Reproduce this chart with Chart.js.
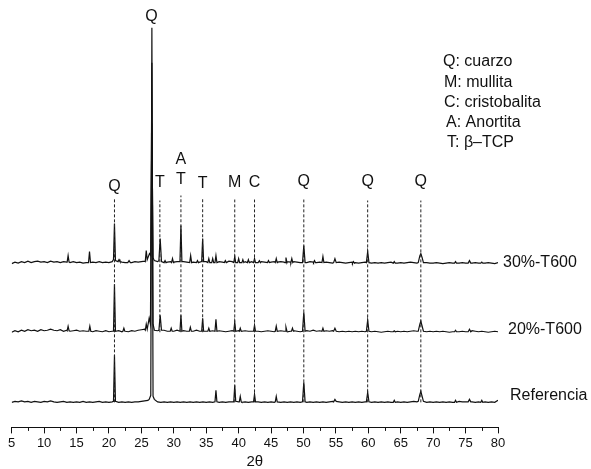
<!DOCTYPE html>
<html>
<head>
<meta charset="utf-8">
<script src="https://cdn.jsdelivr.net/npm/chart.js@4"></script>
<style>
  html, body { margin: 0; padding: 0; background: #fff; }
  #wrap { width: 591px; height: 469px; }
</style>
</head>
<body>
<div id="wrap"><canvas id="xrd" width="591" height="469"></canvas></div>
<script>
// 2θ grid of the baseline lists: 5 .. 80 every 0.5
const baseStart = 5;
const baseStep = 0.5;

// vertical offset of each pattern (stacked)
const seriesNames = ["Referencia", "20%-T600", "30%-T600"];
const seriesOffsets = [25, 95, 163.5];

// baseline noise, one value every 0.5°
const refBase = [
  0, 1, 0.5, 1.5, 0.5, 1, 0, 1, 0.5, 0,
  1, 0.5, 1.5, 0.5, 0, 0.5, 1, 0, 0.5, 0,
  0.5, 0, 1, 0, 0.5, 0, 0.5, 1, 0, 0.5,
  0, 0.5, 0, 0, 0.5, 0, 0.5, 0, 0.5, 0.5,
  1, 1.5, 2, 6, 2, 0.5, 0, 0.5, 0, 0.5,
  0, 0.5, 0, 0.5, 0, 0.5, 0, 0.5, 0, 0.5,
  0, 0.5, 0, 0.5, 0, 0.5, 0, 0.5, 0.5, 0,
  0.5, 0, 0.5, 0, 0.5, 0, 0.5, 0, 0.5, 0,
  0.5, 0, 0.5, 0, 0.5, 0, 0.5, 0, 0.5, 0,
  0.5, 0, 0.5, 0, 0.5, 0, 0.5, 0, 0.5, 1,
  1, 0.5, 0, 0.5, 0, 0.5, 0, 0.5, 0, 0.5,
  0.5, 0, 0.5, 0, 0.5, 0, 0.5, 0, 1, 0.5,
  0, 0.5, 0, 0.5, 1, 0.5, 0, 0.5, 0, 0.5,
  0, 0.5, 0, 0.5, 0, 0.5, 0, 0.5, 1, 0.5,
  0.5, 1, 0.5, 0, 0.5, 1, 0.5, 0, 0.5, 0,
  2
];
const t20Base = [
  0, 1.5, 0.5, 2, 1, 2.5, 1.5, 2, 1, 2.5,
  1.5, 2, 3, 2, 1.5, 2.5, 1, 2, 1, 1.5,
  2, 1, 1.5, 1, 2, 0.5, 1.5, 1, 0.5, 1.5,
  0.5, 1, 0.5, 1.5, 0.5, 1, 0.5, 1.5, 1, 2,
  2.5, 3, 2, 3, 2, 1.5, 1, 2, 1, 1.5,
  1, 2, 1, 1.5, 1, 2, 1, 2, 1, 1.5,
  1, 2, 1.5, 1, 1.5, 1, 0.5, 1, 1.5, 1,
  1.5, 1, 1.5, 1, 1, 0.5, 1, 0.5, 1, 1.5,
  1, 0.5, 1, 1.5, 1, 0.5, 1, 1.5, 1, 0.5,
  1, 1.5, 1, 2, 1, 1.5, 1, 1.5, 1, 1.5,
  1, 0.5, 1, 0.5, 1, 0.5, 1, 0.5, 1, 0.5,
  1, 0.5, 1, 0.5, 0, 0.5, 1, 0.5, 1.5, 1,
  0.5, 1, 0.5, 1, 1.5, 1, 0.5, 1, 0.5, 1,
  0.5, 1, 0.5, 1, 0.5, 0, 0.5, 1, 0.5, 1,
  0.5, 1, 1.5, 1, 0.5, 1, 0.5, 0, 0.5, 1,
  0.5
];
const t30Base = [
  0, 1.5, 0.5, 2, 1, 2.5, 1, 2, 2.5, 1.5,
  2, 1, 2.5, 1.5, 2, 1, 2, 1.5, 1, 2,
  1, 1.5, 0.5, 1, 0.5, 1.5, 1, 2, 1, 1.5,
  1, 2, 1.5, 2.5, 1.5, 1, 1.5, 1, 2, 1.5,
  2, 2.5, 3, 3.5, 2.5, 2, 1.5, 2, 1.5, 2,
  1.5, 2, 1.5, 2, 1.5, 2, 1.5, 2, 1.5, 2.5,
  2, 2.5, 2, 2.5, 2, 1.5, 2, 2.5, 2, 1.5,
  2, 2.5, 2, 1.5, 2, 1.5, 1, 2, 1.5, 2,
  1.5, 2, 1.5, 2, 1.5, 2, 1.5, 2, 1.5, 1,
  1.5, 1, 2, 1.5, 1, 1.5, 1, 1.5, 1, 0.5,
  1, 1.5, 1, 0.5, 1, 1.5, 1, 0.5, 1, 1.5,
  1, 0.5, 1, 0.5, 1, 0.5, 1, 1.5, 1, 0.5,
  1, 0.5, 1, 1.5, 1, 0.5, 1, 0.5, 1, 0.5,
  0.5, 1, 0.5, 0, 0.5, 1, 0.5, 1, 0.5, 1,
  0.5, 1, 0.5, 1, 0.5, 0, 0.5, 1, 0.5, 0,
  1
];

// reflections: groups of [2θ, intensity] points
const refPeaks = [
  [[20.7, 1], [20.85, 47], [21.0, 1]],
  [[26.2, 3], [26.45, 7], [26.62, 374], [26.8, 6], [27.0, 3]],
  [[36.35, 0.5], [36.5, 12], [36.65, 0.5]],
  [[39.25, 0.5], [39.4, 17], [39.55, 1]],
  [[40.1, 0.5], [40.25, 6], [40.4, 0.5]],
  [[42.3, 0.5], [42.45, 8], [42.6, 0.5]],
  [[45.65, 0.5], [45.8, 6], [45.95, 0.5]],
  [[49.85, 0.5], [50.05, 20], [50.25, 0.5]],
  [[54.65, 0.5], [54.85, 3], [55.05, 1]],
  [[59.7, 0.5], [59.9, 10], [60.1, 0.5]],
  [[63.85, 0], [64.0, 2], [64.15, 0]],
  [[67.7, 1], [67.95, 8], [68.1, 11], [68.3, 6], [68.5, 1]],
  [[73.3, 0], [73.45, 2], [73.6, 0]],
  [[75.4, 0.5], [75.6, 3], [75.8, 0.5]],
  [[77.35, 0], [77.5, 2], [77.65, 0]]
];
const t20Peaks = [
  [[13.55, 1.5], [13.7, 6], [13.85, 1.5]],
  [[16.9, 1], [17.05, 6], [17.2, 1]],
  [[20.7, 1], [20.85, 48], [21.0, 1]],
  [[22.15, 1], [22.3, 4], [22.45, 1]],
  [[25.6, 2], [25.75, 8], [25.9, 3], [26.2, 14], [26.4, 8], [26.62, 269], [26.8, 8], [27.0, 2]],
  [[27.7, 2], [27.9, 17], [28.1, 2]],
  [[29.45, 1], [29.6, 4], [29.75, 1]],
  [[30.95, 1], [31.1, 17], [31.25, 1]],
  [[32.4, 1], [32.55, 5], [32.7, 1]],
  [[34.3, 1], [34.45, 14], [34.6, 1]],
  [[35.25, 1], [35.4, 4], [35.55, 1]],
  [[36.35, 1], [36.5, 13], [36.65, 1]],
  [[39.25, 1], [39.4, 10], [39.55, 1]],
  [[40.1, 1], [40.25, 4], [40.4, 1]],
  [[42.3, 1], [42.45, 7], [42.6, 1]],
  [[45.65, 1], [45.8, 6], [45.95, 1]],
  [[47.15, 1], [47.3, 5], [47.45, 1]],
  [[48.15, 1], [48.3, 4], [48.45, 1]],
  [[49.85, 1], [50.05, 20], [50.25, 1]],
  [[52.85, 1], [53.0, 4], [53.15, 1]],
  [[54.65, 1], [54.85, 4], [55.05, 1]],
  [[59.7, 1], [59.9, 12], [60.1, 1]],
  [[63.85, 0.5], [64.0, 1.5], [64.15, 0.5]],
  [[67.7, 1], [67.95, 8], [68.1, 11], [68.3, 6], [68.5, 1]],
  [[73.3, 0.5], [73.45, 2], [73.6, 0.5]],
  [[75.4, 0.5], [75.6, 3], [75.8, 0.5]]
];
const t30Peaks = [
  [[13.55, 1.5], [13.7, 8], [13.85, 1.5]],
  [[16.85, 1], [17.0, 12], [17.15, 1]],
  [[20.55, 2], [20.7, 4], [20.85, 40], [21.0, 3]],
  [[21.4, 2], [21.55, 4], [21.7, 2]],
  [[22.9, 1], [23.1, 3], [23.3, 1]],
  [[25.6, 2], [25.75, 13], [25.9, 4], [26.25, 10], [26.45, 8], [26.62, 140], [26.8, 6], [27.0, 3]],
  [[27.7, 3], [27.9, 25], [28.1, 2]],
  [[28.5, 1], [28.65, 3], [28.8, 1]],
  [[29.65, 1], [29.8, 5], [29.95, 1]],
  [[30.95, 2], [31.1, 38], [31.25, 2]],
  [[32.45, 1], [32.6, 8], [32.75, 1]],
  [[33.5, 1], [33.65, 3], [33.8, 1]],
  [[34.3, 2], [34.45, 25], [34.6, 2]],
  [[35.25, 1], [35.4, 5], [35.55, 1]],
  [[35.85, 1], [36.0, 5], [36.15, 1]],
  [[36.35, 1], [36.5, 8], [36.65, 1]],
  [[37.8, 1], [37.95, 3], [38.1, 1]],
  [[39.25, 1], [39.4, 7], [39.55, 1]],
  [[39.85, 1], [40.0, 5], [40.15, 1]],
  [[40.5, 1], [40.65, 4], [40.8, 1]],
  [[41.35, 1], [41.5, 4], [41.65, 1]],
  [[42.3, 1], [42.45, 5], [42.6, 1]],
  [[43.05, 1], [43.2, 3], [43.35, 1]],
  [[44.45, 1], [44.6, 3], [44.75, 1]],
  [[45.65, 1], [45.8, 5], [45.95, 1]],
  [[47.15, 1], [47.3, 6], [47.45, 1]],
  [[48.05, 1], [48.2, 5], [48.35, 1]],
  [[49.85, 1], [50.05, 18], [50.25, 1]],
  [[51.55, 1], [51.7, 3], [51.85, 1]],
  [[52.85, 1], [53.0, 7], [53.15, 1]],
  [[54.65, 1], [54.85, 5], [55.05, 1]],
  [[57.55, 0.5], [57.7, 2], [57.85, 0.5]],
  [[59.7, 1], [59.9, 12], [60.1, 1]],
  [[63.85, 0.5], [64.0, 2], [64.15, 0.5]],
  [[67.7, 1], [67.95, 8], [68.1, 10], [68.3, 6], [68.5, 1]],
  [[73.3, 0.5], [73.45, 2], [73.6, 0.5]],
  [[75.4, 0.5], [75.6, 3], [75.8, 0.5]],
  [[77.35, 0.5], [77.5, 1.5], [77.65, 0.5]]
];

// phase markers (dashed lines) and their letters
const markerPos = [20.85, 27.85, 31.1, 34.45, 39.4, 42.45, 50.05, 59.9, 68.1];
const markerTop = [229.5, 226.5, 231.5, 228.5, 227.5, 227.5, 227.5, 226.5, 226.5];
const markerBottom = [25, 95, 95, 95, 25, 25, 25, 25, 25];
const markerLabel = ["Q", "T", "T", "T", "M", "C", "Q", "Q", "Q"];
const markerLabelY = [240.5, 244.5, 247.5, 243.5, 244, 244, 245, 245, 245];
// extra letters: A above the T at 31.1, Q on top of the main quartz peak
const extraLabel = [["A", 31.1, 267.5], ["Q", 26.55, 410]];

const xTicks = [5, 10, 15, 20, 25, 30, 35, 40, 45, 50, 55, 60, 65, 70, 75, 80];

const legendLines = ["Q: cuarzo", "M: mullita", "C: cristobalita", "A: Anortita", "T: \u03b2\u2013TCP"];

const FONT = 'Arial, "Liberation Sans", sans-serif';

function buildTrace(base, peaks, offset) {
  const pts = [];
  base.forEach((v, i) => {
    const x = baseStart + i * baseStep;
    // skip baseline points that fall inside a reflection
    const inside = peaks.some((g) => x >= g[0][0] && x <= g[g.length - 1][0]);
    if (!inside) pts.push({ x: x, y: offset + v });
  });
  peaks.forEach((g) => g.forEach((p) => pts.push({ x: p[0], y: offset + p[1] })));
  pts.sort((a, b) => a.x - b.x);
  return pts;
}

const traces = [
  buildTrace(refBase, refPeaks, seriesOffsets[0]),
  buildTrace(t20Base, t20Peaks, seriesOffsets[1]),
  buildTrace(t30Base, t30Peaks, seriesOffsets[2]),
];

const datasets = [];
markerPos.forEach((p, i) => {
  datasets.push({
    data: [{ x: p, y: markerBottom[i] }, { x: p, y: markerTop[i] }],
    borderColor: "#222",
    borderWidth: 1,
    borderDash: [3, 2],
    pointRadius: 0,
  });
});
traces.forEach((t) => {
  datasets.push({
    data: t,
    borderColor: "#111",
    borderWidth: 1.2,
    pointRadius: 0,
    tension: 0,
  });
});

// letters, legend text, pattern names and minor ticks
const annotations = {
  id: "annotations",
  afterDraw(chart) {
    const ctx = chart.ctx;
    const xs = chart.scales.x;
    const ys = chart.scales.y;
    const area = chart.chartArea;
    ctx.save();
    ctx.fillStyle = "#111";
    ctx.textBaseline = "middle";

    ctx.font = "16px " + FONT;
    ctx.textAlign = "center";
    markerPos.forEach((p, i) => {
      ctx.fillText(markerLabel[i], xs.getPixelForValue(p), ys.getPixelForValue(markerLabelY[i]));
    });
    extraLabel.forEach((e) => {
      ctx.fillText(e[0], xs.getPixelForValue(e[1]), ys.getPixelForValue(e[2]));
    });

    ctx.textAlign = "left";
    const legendX = [443, 444, 444, 446, 447];
    legendLines.forEach((s, i) => {
      ctx.fillText(s, legendX[i], 62 + i * 20.2);
    });

    const nameDx = [12, 10, 5];
    const nameDy = [6.5, 2.5, 1.5];
    seriesNames.forEach((s, i) => {
      ctx.fillText(s, area.right + nameDx[i], ys.getPixelForValue(seriesOffsets[i] + nameDy[i]));
    });

    // minor ticks halfway between labelled ones
    ctx.strokeStyle = "#111";
    ctx.lineWidth = 1;
    ctx.beginPath();
    for (let i = 0; i < xTicks.length - 1; i++) {
      const px = Math.round(xs.getPixelForValue((xTicks[i] + xTicks[i + 1]) / 2)) + 0.5;
      ctx.moveTo(px, area.bottom);
      ctx.lineTo(px, area.bottom + 3.5);
    }
    ctx.stroke();
    ctx.restore();
  },
};

new Chart(document.getElementById("xrd"), {
  type: "line",
  data: { datasets: datasets },
  options: {
    responsive: false,
    animation: false,
    devicePixelRatio: 1,
    layout: { padding: { left: 11.7, right: 93, top: 10, bottom: 0 } },
    plugins: { legend: { display: false }, tooltip: { enabled: false } },
    scales: {
      x: {
        type: "linear",
        min: 5,
        max: 80,
        afterBuildTicks: (scale) => {
          scale.ticks = xTicks.map((v) => ({ value: v }));
        },
        ticks: {
          color: "#111",
          font: { family: FONT, size: 13 },
          padding: 2.5,
          maxRotation: 0,
          autoSkip: false,
        },
        grid: {
          display: true,
          drawOnChartArea: false,
          drawTicks: true,
          tickLength: 6,
          tickColor: "#111",
        },
        border: { display: true, color: "#111", width: 1 },
        title: {
          display: true,
          text: "2\u03b8",
          color: "#111",
          font: { family: FONT, size: 15, lineHeight: 1 },
          padding: { top: 0, bottom: 0 },
        },
      },
      y: {
        type: "linear",
        display: false,
        min: 0,
        max: 416.7,
      },
    },
  },
  plugins: [annotations],
});
</script>
</body>
</html>
